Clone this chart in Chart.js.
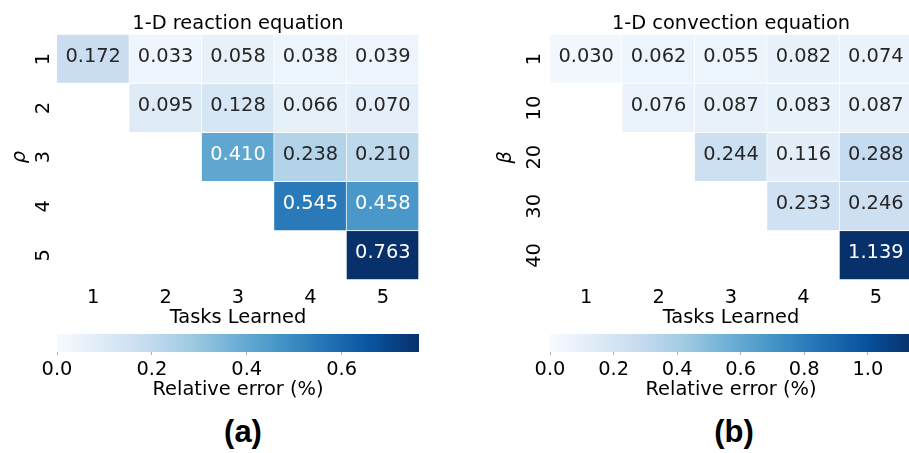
<!DOCTYPE html>
<html>
<head>
<meta charset="utf-8">
<script src="https://cdn.jsdelivr.net/npm/chart.js@4/dist/chart.umd.min.js"></script>
<style>
  html, body { margin: 0; padding: 0; background: #fff; width: 909px; height: 453px; overflow: hidden; position: relative; }
  canvas { position: absolute; }
  .tag { position: absolute; font: bold 31px "Liberation Sans", Arial, sans-serif; color: #000; line-height: 31px; transform: translateX(-50%); white-space: nowrap; }
</style>
</head>
<body>
<canvas id="heatRho" width="455" height="330" style="left:0;top:0"></canvas>
<canvas id="barRho" width="455" height="80" style="left:0;top:320px"></canvas>
<canvas id="heatBeta" width="460" height="330" style="left:455px;top:0"></canvas>
<canvas id="barBeta" width="460" height="80" style="left:455px;top:320px"></canvas>
<div class="tag" style="left:243px;top:416px">(a)</div>
<div class="tag" style="left:734px;top:416px">(b)</div>
<script>
// Tasks learned (columns of both grids)
const tasks = ['1', '2', '3', '4', '5'];

// 1-D reaction equation: rows are rho values
const rhoLabels = ['1', '2', '3', '4', '5'];
const rhoErr1 = [0.172, 0.033, 0.058, 0.038, 0.039];
const rhoErr2 = [null, 0.095, 0.128, 0.066, 0.070];
const rhoErr3 = [null, null, 0.410, 0.238, 0.210];
const rhoErr4 = [null, null, null, 0.545, 0.458];
const rhoErr5 = [null, null, null, null, 0.763];
const rhoCbarTicks = [0.0, 0.2, 0.4, 0.6];

// 1-D convection equation: rows are beta values
const betaLabels = ['1', '10', '20', '30', '40'];
const betaErr1 = [0.030, 0.062, 0.055, 0.082, 0.074];
const betaErr10 = [null, 0.076, 0.087, 0.083, 0.087];
const betaErr20 = [null, null, 0.244, 0.116, 0.288];
const betaErr30 = [null, null, null, 0.233, 0.246];
const betaErr40 = [null, null, null, null, 1.139];
const betaCbarTicks = [0.0, 0.2, 0.4, 0.6, 0.8, 1.0];

const FONT = "'DejaVu Sans', sans-serif";
const FS = 19.4;
Chart.defaults.font.family = FONT;
Chart.defaults.color = '#000';

// "Blues" sequential palette stops
const BLUES = ['#f7fbff', '#deebf7', '#c6dbef', '#9ecae1', '#6baed6', '#4292c6', '#2171b5', '#08519c', '#08306b'];
const BLUES_RGB = BLUES.map(h => [1, 3, 5].map(i => parseInt(h.substr(i, 2), 16)));

function blues(t) {
  t = Math.min(1, Math.max(0, t));
  const p = t * 8;
  const i = Math.min(7, Math.floor(p));
  const f = p - i;
  const a = BLUES_RGB[i], b = BLUES_RGB[i + 1];
  return a.map((c, k) => Math.round(c + (b[k] - c) * f));
}
const rgbStr = c => `rgb(${c[0]},${c[1]},${c[2]})`;

function luminance(c) {
  const lin = c.map(v => {
    v /= 255;
    return v <= 0.03928 ? v / 12.92 : Math.pow((v + 0.055) / 1.055, 2.4);
  });
  return 0.2126 * lin[0] + 0.7152 * lin[1] + 0.0722 * lin[2];
}

// Writes each cell's value in its centre
const cellText = {
  id: 'cellText',
  afterDatasetsDraw(chart) {
    const ctx = chart.ctx;
    const vmax = chart.options.plugins.cellText.vmax;
    ctx.save();
    ctx.font = `${FS}px ${FONT}`;
    ctx.textAlign = 'center';
    ctx.textBaseline = 'middle';
    chart.data.datasets.forEach((ds, di) => {
      chart.getDatasetMeta(di).data.forEach((el, i) => {
        const v = ds.errors[i];
        if (v === null) return;
        const p = el.getCenterPoint();
        ctx.fillStyle = luminance(blues(v / vmax)) > 0.408 ? '#262626' : '#ffffff';
        ctx.fillText(v.toFixed(3), p.x, p.y - 2);
      });
    });
    ctx.restore();
  }
};

function heatmap(id, rowLabels, rows, title, yTitle, vmax, axisW, padRight, tickPad, titlePad) {
  const datasets = rows.map((row, r) => ({
    label: rowLabels[r],
    data: row.map(v => (v === null ? null : [r + 0.5, r + 1.5])),
    errors: row,
    backgroundColor: row.map(v => (v === null ? 'rgba(0,0,0,0)' : rgbStr(blues(v / vmax)))),
    borderColor: '#ffffff',
    borderWidth: { top: 0, left: 0, right: 1, bottom: 1 },
    borderSkipped: false,
    grouped: false,
    barPercentage: 1,
    categoryPercentage: 1
  }));
  return new Chart(document.getElementById(id), {
    type: 'bar',
    data: { labels: tasks, datasets },
    options: {
      responsive: false,
      animation: false,
      layout: { padding: { left: 0, right: padRight, top: 0, bottom: 0 } },
      plugins: {
        legend: { display: false },
        tooltip: { enabled: false },
        cellText: { vmax },
        title: {
          display: true, text: title, fullSize: false, color: '#000',
          font: { family: FONT, size: FS, weight: 'normal', lineHeight: 1 },
          padding: { top: 14, bottom: 1 }
        }
      },
      scales: {
        x: {
          type: 'category', offset: true,
          grid: { display: false, drawTicks: false }, border: { display: false },
          ticks: { color: '#000', font: { family: FONT, size: FS }, padding: 6 },
          title: {
            display: true, text: 'Tasks Learned', color: '#000',
            font: { family: FONT, size: FS, lineHeight: 1 }, padding: { top: 0, bottom: 2 }
          },
          afterFit: s => { s.height = 50; }
        },
        y: {
          type: 'linear', min: 0.5, max: 5.5, reverse: true,
          grid: { display: false, drawTicks: false }, border: { display: false },
          afterBuildTicks: s => { s.ticks = rowLabels.map((_, i) => ({ value: i + 1 })); },
          ticks: {
            color: '#000', font: { family: FONT, size: FS },
            minRotation: 90, maxRotation: 90, crossAlign: 'center', padding: tickPad,
            callback: v => rowLabels[Math.round(v) - 1]
          },
          title: {
            display: true, text: yTitle, color: '#000',
            font: { family: FONT, size: FS, style: 'italic', lineHeight: 1 }, padding: { top: titlePad, bottom: 0 }
          },
          afterFit: s => { s.width = axisW; }
        }
      }
    },
    plugins: [cellText]
  });
}

function colorbar(id, vmax, tickVals, padLeft, padRight) {
  const chart = new Chart(document.getElementById(id), {
    type: 'bar',
    data: {
      labels: ['Relative error (%)'],
      datasets: [{
        data: [[0, vmax]],
        backgroundColor: ctx => {
          const sx = ctx.chart.scales.x;
          const x0 = sx ? sx.getPixelForValue(0) : NaN;
          const x1 = sx ? sx.getPixelForValue(vmax) : NaN;
          if (!Number.isFinite(x0) || !Number.isFinite(x1) || x1 <= x0) return BLUES[4];
          const g = ctx.chart.ctx.createLinearGradient(x0, 0, x1, 0);
          BLUES.forEach((c, i) => g.addColorStop(i / 8, c));
          return g;
        },
        borderWidth: 0,
        barPercentage: 1,
        categoryPercentage: 1
      }]
    },
    options: {
      indexAxis: 'y',
      responsive: false,
      animation: false,
      layout: { padding: { left: padLeft, right: padRight, top: 14, bottom: 0 } },
      plugins: { legend: { display: false }, tooltip: { enabled: false } },
      scales: {
        x: {
          type: 'linear', min: 0, max: vmax,
          afterBuildTicks: s => { s.ticks = tickVals.map(v => ({ value: v })); },
          grid: { display: true, drawOnChartArea: false, drawTicks: true, tickLength: 3, color: '#999', lineWidth: 0.8 },
          border: { display: false },
          ticks: { color: '#000', font: { family: FONT, size: FS }, padding: 3, callback: v => v.toFixed(1) },
          title: {
            display: true, text: 'Relative error (%)', color: '#000',
            font: { family: FONT, size: FS, lineHeight: 1 }, padding: { top: 0, bottom: 0 }
          },
          afterFit: s => { s.height = 48; }
        },
        y: { display: false }
      }
    }
  });
  chart.update();
  return chart;
}

const rhoRows = [rhoErr1, rhoErr2, rhoErr3, rhoErr4, rhoErr5];
const betaRows = [betaErr1, betaErr10, betaErr20, betaErr30, betaErr40];
const rhoMax = Math.max(...rhoRows.flat().filter(v => v !== null));
const betaMax = Math.max(...betaRows.flat().filter(v => v !== null));

heatmap('heatRho', rhoLabels, rhoRows, '1-D reaction equation', 'ρ', rhoMax, 57, 36, 7, 10);
heatmap('heatBeta', betaLabels, betaRows, '1-D convection equation', 'β', betaMax, 95, 3, 3, 41);
colorbar('barRho', rhoMax, rhoCbarTicks, 57, 36);
colorbar('barBeta', betaMax, betaCbarTicks, 95, 3);
</script>
</body>
</html>
